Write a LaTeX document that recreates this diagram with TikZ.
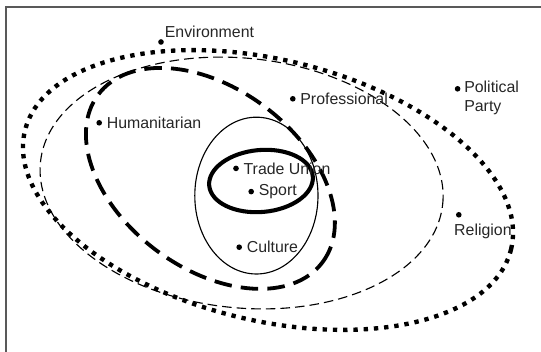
\documentclass[tikz,border=0pt]{standalone}
\usepackage{fontspec}
\setmainfont{Liberation Sans}
\usetikzlibrary{positioning}
\colorlet{ink}{black!85}
\tikzset{ring/outer/.style={black, line width=3.1pt, dash pattern=on 3.1pt off 4.2pt},
  ring/wide/.style={black, line width=0.8pt, dash pattern=on 6.8pt off 3.6pt},
  ring/bold/.style={black, line width=2.7pt, dash pattern=on 12.5pt off 6.5pt},
  ring/thin/.style={black, line width=0.8pt},
  ring/core/.style={black, line width=2.9pt},
  member/.style={circle, fill=black, inner sep=0pt, minimum size=4pt},
  tag/.style={ink, inner sep=1pt, font=\fontsize{11.3}{13.3}\selectfont, align=left}}

\begin{document}
\begin{tikzpicture}
  \useasboundingbox (0,0) rectangle (13.525,8.8);
  \draw[black!65, line width=1pt] (0.15,0) -- (0.15,8.625) -- (13.525,8.625);
  % the five groupings
  \draw[ring/outer, shift={(6.70,4.05)}, rotate=-13.7] (0,0) ellipse (6.255 and 3.26);
  \draw[ring/wide, shift={(6.04,4.225)}, rotate=-6] (0,0) ellipse (5.055 and 3.12);
  \draw[ring/bold, shift={(5.26,4.34)}, rotate=-36.7] (0,0) ellipse (3.5 and 2.25);
  \draw[ring/thin] (6.41,3.91) ellipse (1.54 and 1.96);
  \draw[ring/core, shift={(6.525,4.275)}, rotate=5] (0,0) ellipse (1.3 and 0.775);
  % associations
  \node[member] (env) at (4.025,7.75) {};
  \node[member] (hum) at (2.48,5.73) {};
  \node[member] (prof) at (7.32,6.33) {};
  \node[member] (pol) at (11.44,6.58) {};
  \node[member] (rel) at (11.47,3.43) {};
  \node[member] (union) at (5.90,4.59) {};
  \node[member] (sport) at (6.28,4.01) {};
  \node[member] (cult) at (5.98,2.62) {};
  \node[tag, above right=0pt and 0pt of env] (envtxt) {Environment};
  \node[tag, right=2pt of hum] (humtxt) {Humanitarian};
  \node[tag, right=2pt of prof] (proftxt) {Professional};
  \node[tag, right=2pt of pol.north east, anchor=north west, yshift=5pt] (poltxt) {Political\\Party};
  \node[tag, below right=4pt and -6pt of rel] (reltxt) {Religion};
  \node[tag, right=2pt of union] (uniontxt) {Trade Union};
  \node[tag, right=2pt of sport] (sporttxt) {Sport};
  \node[tag, right=2pt of cult] (culttxt) {Culture};
\end{tikzpicture}
\end{document}
